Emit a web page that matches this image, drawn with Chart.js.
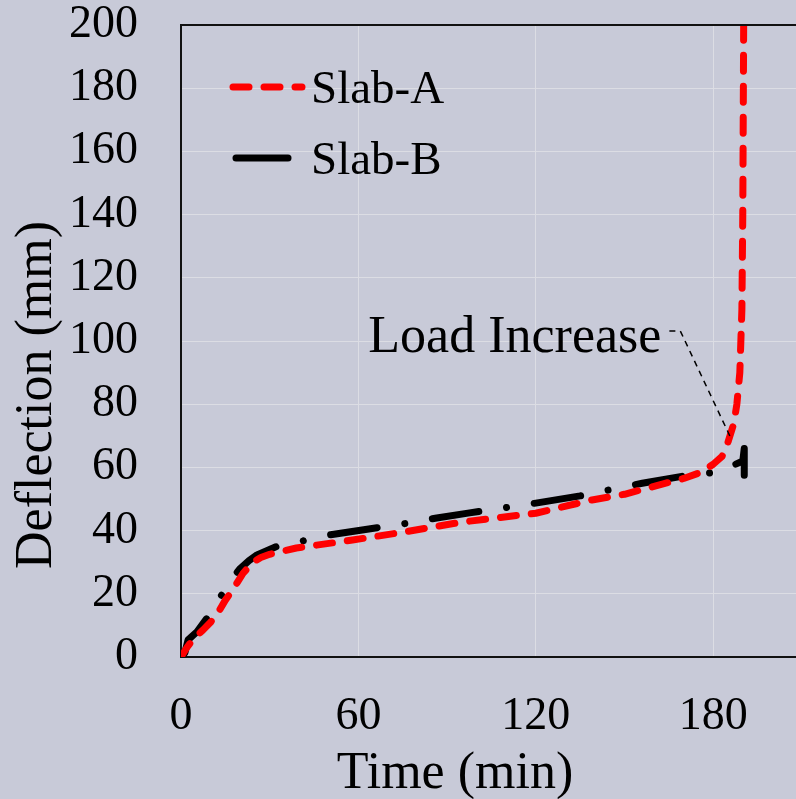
<!DOCTYPE html>
<html>
<head>
<meta charset="utf-8">
<script src="https://cdn.jsdelivr.net/npm/chart.js@4/dist/chart.umd.min.js"></script>
<style>
  html, body { margin: 0; padding: 0; background: #c8cad8; overflow: hidden; }
  #wrap { position: relative; width: 796px; height: 799px; }
</style>
</head>
<body>
<div id="wrap"><canvas id="chart"></canvas></div>
<script>
// ─── Data ──────────────────────────────────────────────────────────────────
const SLAB_A_TIME = [0, 2, 4, 7.4, 10, 12.5, 15, 18, 21, 24.3, 27, 30, 39, 58, 75, 95, 120,
  139, 150, 160, 170, 176, 180, 183, 185, 187, 188, 189, 189.7, 190, 190.3];
const SLAB_A_DEFL = [0, 3, 5.5, 8.5, 11, 14, 18, 22, 26.5, 30, 31.5, 32.5, 34.5, 37, 39.5, 42.7, 45.5,
  49.7, 51.5, 54, 56.5, 58.5, 61, 63.5, 68, 74, 80, 90, 110, 140, 200];

const SLAB_B_TIME = [0, 1.3, 2.4, 5.4, 8.8, 14, 17, 20, 23, 25.7, 32.4, 41, 50, 67, 77, 86.5, 97.6,
  120, 135, 156, 172, 181.4, 190, 190.5, 190.5];
const SLAB_B_DEFL = [0, 1.3, 5.4, 8, 12.3, 20, 24.5, 28, 30.5, 32.3, 35, 36.7, 38.6, 41, 42.4, 44, 45.6,
  48.7, 51, 55, 57.6, 58.5, 62, 66, 54];

const SERIES_NAMES = ['Slab-A', 'Slab-B'];
const X_TICKS = [0, 60, 120, 180];
const Y_TICKS = [0, 20, 40, 60, 80, 100, 120, 140, 160, 180, 200];

// Where the "Load Increase" leader points (time, deflection)
const LOAD_INCREASE_AT = { x: 185.8, y: 69.6 };
const LOAD_INCREASE_TEXT = 'Load Increase';

// ─── Styling ────────────────────────────────────────────────────────────────
const FONT = '"Liberation Serif", "Times New Roman", serif';
const GRID_COLOR = '#dcdde4';

function toPoints(xs, ys) {
  return xs.map((x, i) => ({ x, y: ys[i] }));
}

// Top frame line of the plot area
const framePlugin = {
  id: 'frame',
  afterDraw(chart) {
    const { ctx, chartArea } = chart;
    ctx.save();
    ctx.strokeStyle = '#111';
    ctx.lineWidth = 2;
    ctx.beginPath();
    ctx.moveTo(chartArea.left, chartArea.top);
    ctx.lineTo(chartArea.right, chartArea.top);
    ctx.stroke();
    ctx.restore();
  },
};

// Legend drawn inside the plot, using each dataset's own stroke style
const insideLegend = {
  id: 'insideLegend',
  afterDatasetsDraw(chart) {
    const { ctx } = chart;
    const rows = [
      { y: 87, x0: 233, x1: 302 },
      { y: 158, x0: 236, x1: 288 },
    ];
    ctx.save();
    chart.data.datasets.forEach((ds, i) => {
      const r = rows[i];
      ctx.strokeStyle = ds.borderColor;
      ctx.lineWidth = ds.borderWidth;
      ctx.lineCap = 'round';
      ctx.setLineDash(i === 0 ? ds.borderDash : []);
      ctx.beginPath();
      ctx.moveTo(r.x0, r.y);
      ctx.lineTo(r.x1, r.y);
      ctx.stroke();
      ctx.setLineDash([]);
      ctx.fillStyle = '#000';
      ctx.font = `47px ${FONT}`;
      ctx.textBaseline = 'alphabetic';
      ctx.textAlign = 'left';
      ctx.fillText(ds.label, 311, r.y + 16);
    });
    ctx.restore();
  },
};

// "Load Increase" callout with dashed leader
const callout = {
  id: 'callout',
  afterDatasetsDraw(chart) {
    const { ctx, scales } = chart;
    const tx = scales.x.getPixelForValue(LOAD_INCREASE_AT.x);
    const ty = scales.y.getPixelForValue(LOAD_INCREASE_AT.y);
    ctx.save();
    ctx.strokeStyle = '#000';
    ctx.lineWidth = 1.5;
    ctx.setLineDash([6, 5]);
    ctx.beginPath();
    ctx.moveTo(tx - 61, ty - 106);
    ctx.lineTo(tx - 50, ty - 106);
    ctx.lineTo(tx, ty);
    ctx.stroke();
    ctx.setLineDash([]);
    ctx.fillStyle = '#000';
    ctx.font = `52px ${FONT}`;
    ctx.textAlign = 'right';
    ctx.textBaseline = 'alphabetic';
    ctx.fillText(LOAD_INCREASE_TEXT, tx - 69, ty - 85);
    ctx.restore();
  },
};

// Axis titles (placed like the original, not centred on the plot)
const axisTitles = {
  id: 'axisTitles',
  afterDraw(chart) {
    const { ctx } = chart;
    ctx.save();
    ctx.fillStyle = '#000';
    ctx.font = `52px ${FONT}`;
    ctx.textAlign = 'center';
    ctx.textBaseline = 'alphabetic';
    ctx.fillText('Time (min)', 455, 788);
    ctx.translate(51, 395);
    ctx.rotate(-Math.PI / 2);
    ctx.fillText('Deflection (mm)', 0, 0);
    ctx.restore();
  },
};

const ctx = document.getElementById('chart');

new Chart(ctx, {
  type: 'line',
  data: {
    datasets: [
      {
        label: SERIES_NAMES[0],
        data: toPoints(SLAB_A_TIME, SLAB_A_DEFL),
        borderColor: '#ff0000',
        borderWidth: 7,
        borderDash: [16, 15],
        borderCapStyle: 'round',
        borderJoinStyle: 'round',
        pointRadius: 0,
        tension: 0,
        order: 1,
      },
      {
        label: SERIES_NAMES[1],
        data: toPoints(SLAB_B_TIME, SLAB_B_DEFL),
        borderColor: '#000000',
        borderWidth: 7,
        borderDash: [47, 28, 0.01, 28],
        borderCapStyle: 'round',
        borderJoinStyle: 'round',
        pointRadius: 0,
        tension: 0,
        order: 2,
      },
    ],
  },
  options: {
    responsive: true,
    maintainAspectRatio: false,
    animation: false,
    layout: { padding: { top: 25, right: 0, left: 0, bottom: 0 } },
    plugins: {
      legend: { display: false },
      tooltip: { enabled: false },
    },
    scales: {
      x: {
        type: 'linear',
        min: 0,
        max: 208,
        afterBuildTicks(axis) {
          axis.ticks = X_TICKS.map((v) => ({ value: v }));
        },
        afterFit(scale) {
          scale.height = 142;
          scale.paddingLeft = 0;
          scale.paddingRight = 0;
        },
        grid: { color: GRID_COLOR, lineWidth: 1, drawTicks: false },
        border: { color: '#111', width: 2 },
        ticks: {
          autoSkip: false,
          maxRotation: 0,
          padding: 32,
          color: '#000',
          font: { family: FONT, size: 46 },
        },
      },
      y: {
        min: 0,
        max: 200,
        afterBuildTicks(axis) {
          axis.ticks = Y_TICKS.map((v) => ({ value: v }));
        },
        afterFit(scale) {
          scale.width = 181;
          scale.paddingTop = 0;
          scale.paddingBottom = 0;
        },
        grid: { color: GRID_COLOR, lineWidth: 1, drawTicks: false },
        border: { color: '#111', width: 2 },
        ticks: {
          autoSkip: false,
          padding: 43,
          color: '#000',
          font: { family: FONT, size: 46 },
        },
      },
    },
  },
  plugins: [framePlugin, insideLegend, callout, axisTitles],
});
</script>
</body>
</html>
